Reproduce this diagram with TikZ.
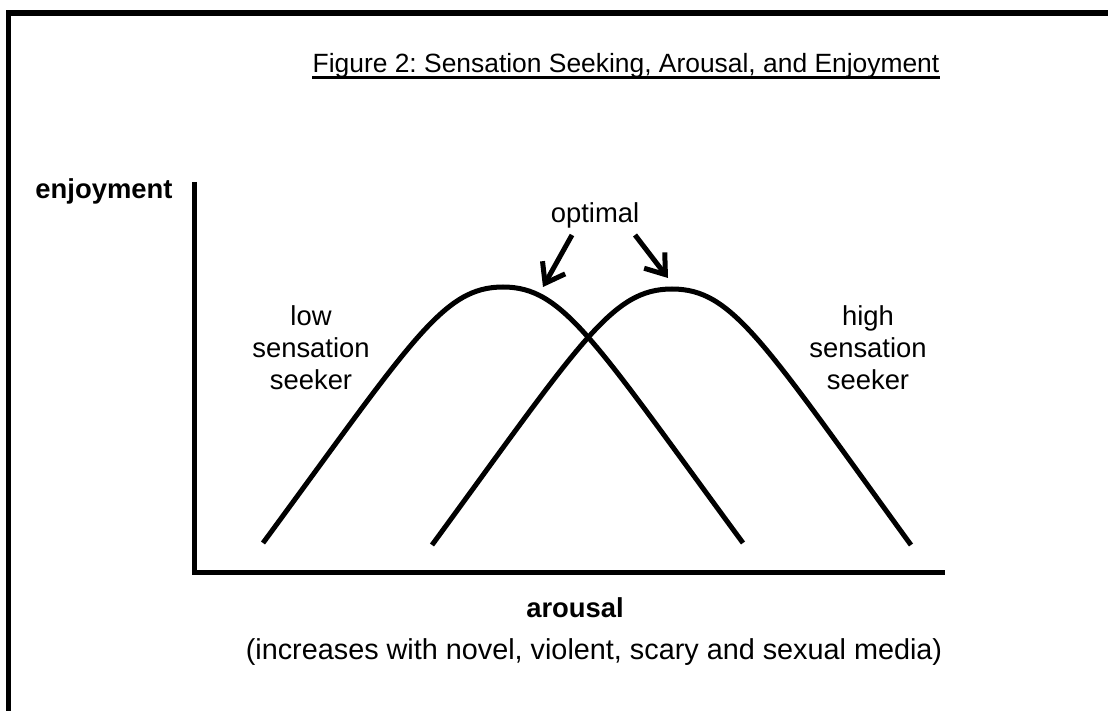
\documentclass[tikz,border=0pt]{standalone}
\usepackage{fontspec}
\setmainfont{Liberation Sans}
\usetikzlibrary{arrows.meta}
\frenchspacing
\begin{document}
\begin{tikzpicture}[x=0.5pt, y=-0.5pt, >={Straight Barb[length=9pt,width=13pt]},
  lbl/.style={font=\fontsize{13.7}{16}\selectfont, inner sep=0pt, anchor=base, align=center},
  curve/.style={line width=2.5pt},
  axis/.style={line width=2.5pt, line join=miter},
  optarrow/.style={->, line width=2.5pt}]
\useasboundingbox (0,0) rectangle (1108,711);
\draw[line width=2.75pt] (8.5,720)--(8.5,13)--(1120,13);
\node[lbl, font=\fontsize{13.2}{16}\selectfont] (title) at (626,73) {Figure 2: Sensation Seeking, Arousal, and Enjoyment};
\draw[line width=1.35pt] ([yshift=-2.25pt]title.base west)--([yshift=-2.25pt]title.base east);
\node[lbl, font=\fontsize{13.7}{16}\selectfont\bfseries] (enjoy) at (104,199) {enjoyment};
\node[lbl, font=\fontsize{13.7}{16}\selectfont\bfseries] (arousal) at (575,617) {arousal};
\node[lbl, font=\fontsize{14.4}{16}\selectfont] (media) at (594,659) {(increases with novel, violent, scary and sexual media)};
\node[lbl] (optimal) at (595,223) {optimal};
\node[lbl] (low) at (311,389) {low\\sensation\\seeker};
\node[lbl] (high) at (868,389) {high\\sensation\\seeker};
\draw[axis] (194.5,182)--(194.5,572)--(945,572);
\draw[curve] (263,543) .. controls (413,339) and (443,287) .. (503,287) .. controls (563,287) and (593,339) .. (743,543);
\draw[curve] (432,545) .. controls (582,340) and (612,289) .. (672,289) .. controls (732,289) and (762,340) .. (911,545);
\coordinate (lowtop) at (572,235);
\coordinate (lowpeak) at (543,287);
\coordinate (hightop) at (635,235);
\coordinate (highpeak) at (668,278);
\draw[optarrow] (lowtop)--(lowpeak);
\draw[optarrow] (hightop)--(highpeak);
\end{tikzpicture}
\end{document}
